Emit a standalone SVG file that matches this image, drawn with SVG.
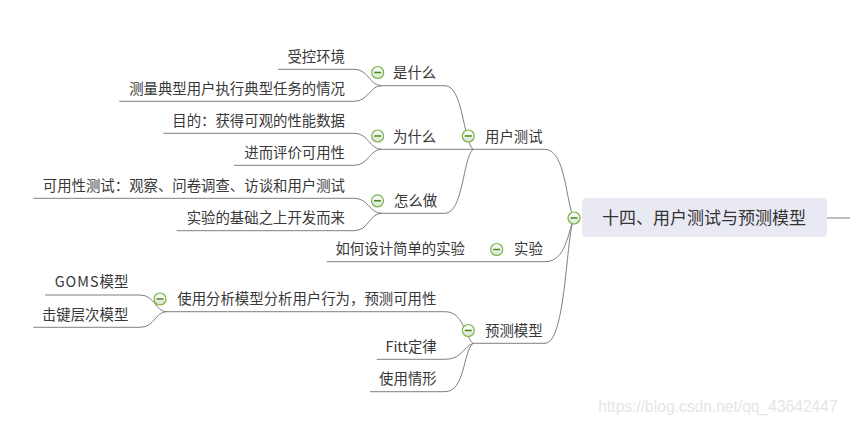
<svg xmlns="http://www.w3.org/2000/svg" width="850" height="425" viewBox="0 0 850 425">
<defs>
<linearGradient id="cg" x1="0" y1="0" x2="0" y2="1">
<stop offset="0" stop-color="#ffffff"/>
<stop offset="1" stop-color="#d9e3d2"/>
</linearGradient>
<style>
.t{font-family:"Noto Sans CJK SC","Noto Sans",sans-serif;font-size:14.4px;fill:#383838}
.r{text-anchor:end}
.root{font-family:"Noto Sans CJK SC","Noto Sans",sans-serif;font-size:17px;fill:#333;text-anchor:middle}
.ln{fill:none;stroke:#808080;stroke-width:1}
.cc{fill:url(#cg);stroke:#78b447;stroke-width:1.2}
.mn{stroke:#4a8a1e;stroke-width:1.5}
.wm{font-family:"Liberation Sans",Arial,sans-serif;font-size:15.6px;fill:#e6e6e6}
</style>
</defs>
<rect width="850" height="425" fill="#ffffff"/>
<g id="connectors">
<path class="ln" d="M827,218 H850"/>
<path class="ln" d="M473,149.3 H545 C566,149.3 566,205 574,218"/>
<path class="ln" d="M326.7,261.7 H545 C566,261.7 568,232 574,218"/>
<path class="ln" d="M473,343.3 H545 C566,343.3 566,235 574,218"/>
<path class="ln" d="M382,85.7 H445 C463,85.7 463,140 473,149.3"/>
<path class="ln" d="M382,149.3 H473"/>
<path class="ln" d="M382,213.3 H445 C463,213.3 463,158 473,149.3"/>
<path class="ln" d="M278,69.3 H354 C369,69.3 369,85.7 382,85.7"/>
<path class="ln" d="M119.3,101.3 H354 C369,101.3 369,85.7 382,85.7"/>
<path class="ln" d="M163.3,133.3 H354 C369,133.3 369,149.3 382,149.3"/>
<path class="ln" d="M234,165.3 H354 C369,165.3 369,149.3 382,149.3"/>
<path class="ln" d="M33.3,198.3 H354 C369,198.3 369,213.3 382,213.3"/>
<path class="ln" d="M176.7,230.7 H354 C369,230.7 369,213.3 382,213.3"/>
<path class="ln" d="M166.7,311.7 H445 C464,311.7 464,336 473,343.3"/>
<path class="ln" d="M376.7,359.3 H445 C462,359.3 462,348 473,343.3"/>
<path class="ln" d="M370,391.7 H445 C465,391.7 463,352 473,343.3"/>
<path class="ln" d="M45,295 H140 C155,295 155,311.7 166.7,311.7"/>
<path class="ln" d="M33.3,327.3 H140 C155,327.3 155,311.7 166.7,311.7"/>
</g>
<g id="root">
<rect x="582" y="198" width="245" height="39" rx="4" fill="#e9e9f3"/>
<text class="root" x="704" y="223.5">十四、用户测试与预测模型</text>
<circle class="cc" cx="574" cy="218" r="6"/>
<line class="mn" x1="570.5" y1="218" x2="577.5" y2="218"/>
</g>
<g id="n-yonghuceshi">
<circle class="cc" cx="468.3" cy="136" r="6"/>
<line class="mn" x1="464.8" y1="136" x2="471.8" y2="136"/>
<text class="t" x="485" y="141.5">用户测试</text>
</g>
<g id="n-shiyan">
<circle class="cc" cx="496.7" cy="249.5" r="6"/>
<line class="mn" x1="493.2" y1="249.5" x2="500.2" y2="249.5"/>
<text class="t" x="514" y="254">实验</text>
</g>
<g id="n-yuce">
<circle class="cc" cx="468.3" cy="330.5" r="6"/>
<line class="mn" x1="464.8" y1="330.5" x2="471.8" y2="330.5"/>
<text class="t" x="485" y="335.5">预测模型</text>
</g>
<g id="n-shishenme">
<circle class="cc" cx="377.7" cy="72.5" r="6"/>
<line class="mn" x1="374.2" y1="72.5" x2="381.2" y2="72.5"/>
<text class="t" x="393" y="78">是什么</text>
</g>
<g id="n-weishenme">
<circle class="cc" cx="377.7" cy="136" r="6"/>
<line class="mn" x1="374.2" y1="136" x2="381.2" y2="136"/>
<text class="t" x="393" y="141.5">为什么</text>
</g>
<g id="n-zenmezuo">
<circle class="cc" cx="377.5" cy="200.8" r="6"/>
<line class="mn" x1="374" y1="200.8" x2="381" y2="200.8"/>
<text class="t" x="394" y="205.5">怎么做</text>
</g>
<g id="n-fenxi">
<circle class="cc" cx="160" cy="299" r="6"/>
<line class="mn" x1="156.5" y1="299" x2="163.5" y2="299"/>
<text class="t" x="177.3" y="304">使用分析模型分析用户行为，预测可用性</text>
</g>
<g id="n-shoukong"><text class="t r" x="345" y="61.5">受控环境</text></g>
<g id="n-celiang"><text class="t r" x="345" y="93.5">测量典型用户执行典型任务的情况</text></g>
<g id="n-mudi"><text class="t r" x="345" y="125.5">目的：获得可观的性能数据</text></g>
<g id="n-jiner"><text class="t r" x="345" y="157.5">进而评价可用性</text></g>
<g id="n-keyongxing"><text class="t r" x="345" y="190.5">可用性测试：观察、问卷调查、访谈和用户测试</text></g>
<g id="n-jichu"><text class="t r" x="345" y="223">实验的基础之上开发而来</text></g>
<g id="n-ruhe"><text class="t r" x="465" y="254">如何设计简单的实验</text></g>
<g id="n-goms"><text class="t r" x="128.3" y="287.2"><tspan letter-spacing="1">GOMS</tspan>模型</text></g>
<g id="n-jijian"><text class="t r" x="128.3" y="319.5">击键层次模型</text></g>
<g id="n-fitt"><text class="t r" x="436.7" y="351.5">Fitt定律</text></g>
<g id="n-qingxing"><text class="t r" x="436.7" y="384">使用情形</text></g>
<text class="wm" x="598.3" y="411.7">https://blog.csdn.net/qq_43642447</text>
</svg>
